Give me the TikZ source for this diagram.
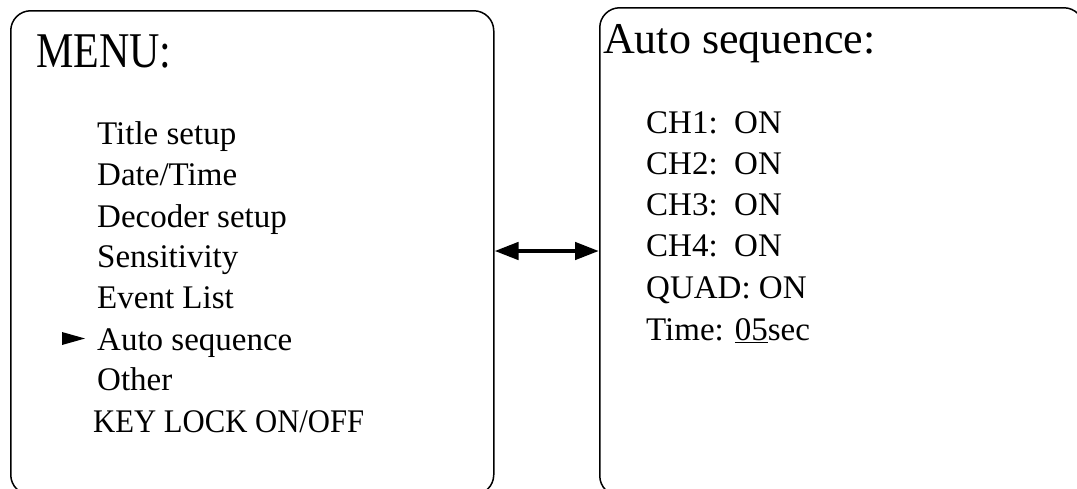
\documentclass[tikz,border=0pt]{standalone}
\usepackage{fontspec}
\setmainfont{Liberation Serif}
\usetikzlibrary{arrows.meta}
\begin{document}
\begin{tikzpicture}[x=1pt,y=-1pt,
  panel/.style={draw=black,line width=1.5pt,rounded corners=20pt},
  item/.style={anchor=base west,inner sep=0pt,font=\fontsize{33}{38}\selectfont},
  rtitle/.style={anchor=base west,inner sep=0pt,font=\fontsize{44}{50}\selectfont},
  dblarrow/.style={line width=4.5pt,{Triangle[length=24pt,width=17pt]}-{Triangle[length=24pt,width=17pt]}}
]
\useasboundingbox (0,0) rectangle (1077,488);
\begin{scope}
\clip (0,0) rectangle (1077,488);
\node[panel,minimum width=483pt,minimum height=484pt,anchor=north west,inner sep=0pt] (left) at (10,10) {};
\node[panel,minimum width=484pt,minimum height=488pt,anchor=north west,inner sep=0pt] (right) at (599,7) {};
\end{scope}
\draw[dblarrow] (left.east |- 0,251) -- (right.west |- 0,251);

\node[anchor=base west,inner sep=0pt,font=\fontsize{50}{56}\selectfont] (menu) at (36,67) {\scalebox{0.84}[1]{MENU:}};
\node[item] (t1) at (97,144) {Title setup};
\node[item] (t2) at (97,185) {Date/Time};
\node[item] (t3) at (97,227) {Decoder setup};
\node[item] (t4) at (97,267) {Sensitivity};
\node[item] (t5) at (97,308) {Event List};
\node[item] (t6) at (97,350) {Auto sequence};
\node[item] (t7) at (97,390) {Other};
\node[item] (t8) at (93,432) {\scalebox{0.93}[1]{KEY LOCK ON/OFF}};
\fill (62,332) -- (85,338.5) -- (62,345) -- cycle;

\node[rtitle] (auto) at (603,53) {Auto sequence:};
\node[item] (c1) at (646,133) {CH1:~~ON};
\node[item] (c2) at (646,174) {CH2:~~ON};
\node[item] (c3) at (646,215) {CH3:~~ON};
\node[item] (c4) at (646,256) {CH4:~~ON};
\node[item] (c5) at (646,298) {QUAD: ON};
\node[item] (c6) at (646,340) {Time: \underline{05}sec};
\end{tikzpicture}
\end{document}
